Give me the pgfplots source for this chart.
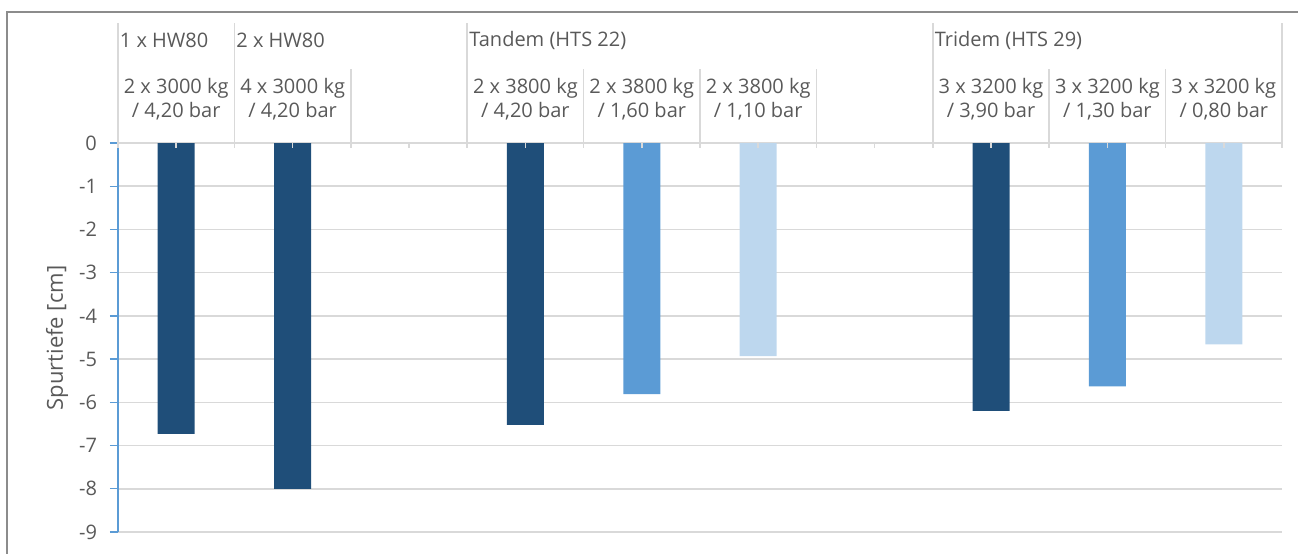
\documentclass[border=0pt]{standalone}
\usepackage{pgfplots}
\pgfplotsset{compat=1.18}
\usepackage{fontspec}
\setmainfont{Open Sans}
\definecolor{dkblue}{HTML}{1F4E79}
\definecolor{mdblue}{HTML}{5B9BD5}
\definecolor{ltblue}{HTML}{BDD7EE}
\definecolor{gridgray}{HTML}{D9D9D9}
\definecolor{txtgray}{HTML}{595959}
\definecolor{framegray}{HTML}{8C8C8C}
\begin{document}
\begin{tikzpicture}[x=0.5pt,y=-0.5pt]
\useasboundingbox (0,0) rectangle (1298,553);
\begin{axis}[
  at={(59pt,-266pt)}, anchor=south west,
  scale only axis, width=582pt, height=194.5pt,
  xmin=0.5, xmax=10.5, ymin=-9, ymax=0,
  axis x line=none,
  axis y line*=left,
  y axis line style={draw=mdblue, line width=0.7pt},
  ytick={-9,-8,...,0},
  ytick align=outside,
  major tick length=4pt,
  ytick style={draw=mdblue, line width=0.7pt},
  ymajorgrids,
  major grid style={draw=gridgray, line width=0.8pt},
  yticklabel style={font=\fontsize{10pt}{12pt}\selectfont, text=txtgray, xshift=-3pt},
  /pgf/number format/assume math mode=true,
  clip=false,
  ybar, bar width=18.5pt, bar shift=0pt,
]
\addplot[fill=dkblue, draw=none] coordinates {(1,-6.73) (2,-8.0) (4,-6.52) (8,-6.2)};
\addplot[fill=mdblue, draw=none] coordinates {(5,-5.81) (9,-5.63)};
\addplot[fill=ltblue, draw=none] coordinates {(6,-4.93) (10,-4.66)};
\end{axis}
% frame
\draw[framegray, line width=1pt] (7,560) -- (7,12) -- (1305,12);
% separators
\foreach \k in {0,...,10} {
  \draw[gridgray, line width=0.8pt] ({118+116.4*\k},69) -- ({118+116.4*\k},148);
}
\foreach \k in {0,1,3,7,10} {
  \draw[gridgray, line width=0.8pt] ({118+116.4*\k},23) -- ({118+116.4*\k},148);
}
\foreach \k in {0,...,9} {
  \draw[gridgray, line width=0.8pt] ({118+116.4*(\k+0.5)},143) -- ({118+116.4*(\k+0.5)},148);
}
% labels
\node[font=\fontsize{11pt}{13pt}\selectfont, text=txtgray, inner sep=0pt, rotate=90] at (57,338) {Spurtiefe [cm]};
\begin{scope}[every node/.style={font=\fontsize{10pt}{12pt}\selectfont, text=txtgray, inner sep=0pt}]
\node[anchor=west] at (119.5,40) {1 x HW80};
\node[anchor=west] at (236,40) {2 x HW80};
\node[anchor=west] at (469,40) {Tandem (HTS 22)};
\node[anchor=west] at (934.5,40) {Tridem (HTS 29)};
\node[align=center] at ({118+116.4*0.5},99) {2 x 3000 kg\\/ 4,20 bar};
\node[align=center] at ({118+116.4*1.5},99) {4 x 3000 kg\\/ 4,20 bar};
\node[align=center] at ({118+116.4*3.5},99) {2 x 3800 kg\\/ 4,20 bar};
\node[align=center] at ({118+116.4*4.5},99) {2 x 3800 kg\\/ 1,60 bar};
\node[align=center] at ({118+116.4*5.5},99) {2 x 3800 kg\\/ 1,10 bar};
\node[align=center] at ({118+116.4*7.5},99) {3 x 3200 kg\\/ 3,90 bar};
\node[align=center] at ({118+116.4*8.5},99) {3 x 3200 kg\\/ 1,30 bar};
\node[align=center] at ({118+116.4*9.5},99) {3 x 3200 kg\\/ 0,80 bar};
\end{scope}
\end{tikzpicture}
\end{document}
